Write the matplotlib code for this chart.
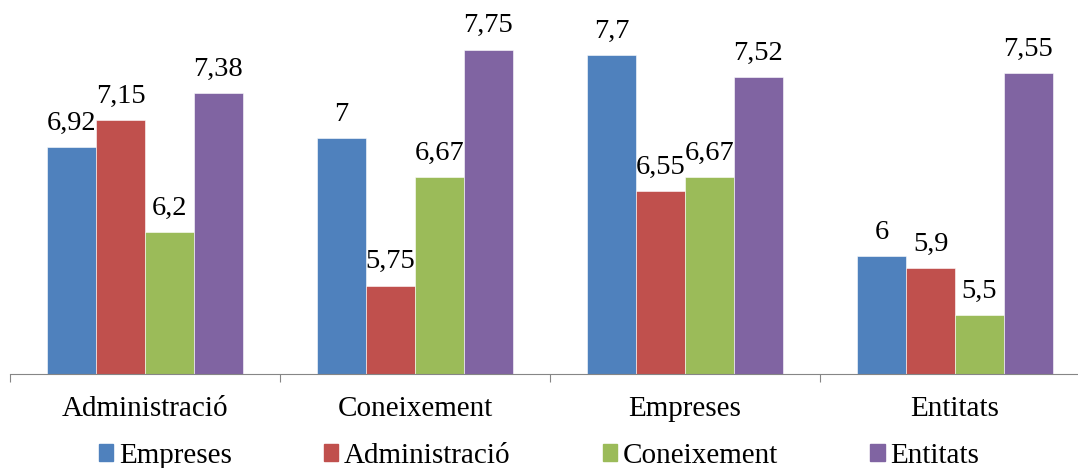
import numpy as np
import matplotlib.pyplot as plt
import matplotlib.transforms as mtransforms
from matplotlib.patches import Patch

categories = ['Administració', 'Coneixement', 'Empreses', 'Entitats']
series = ['Empreses', 'Administració', 'Coneixement', 'Entitats']
empreses = [6.92, 7.0, 7.7, 6.0]
administracio = [7.15, 5.75, 6.55, 5.9]
coneixement = [6.2, 6.67, 6.67, 5.5]
entitats = [7.38, 7.75, 7.52, 7.55]
colors = ['#4F81BD', '#C0504D', '#9BBB59', '#8064A2']

plt.rcParams['font.family'] = ['Liberation Serif', 'DejaVu Serif']

fig = plt.figure(figsize=(10.78, 4.68), dpi=100, facecolor='white')
W, H = 1078, 468
ax = fig.add_axes([10 / W, 1 - 374 / H, 1080 / W, (374 - 20) / H])

x = np.arange(len(categories))
bw = 0.181
data = [empreses, administracio, coneixement, entitats]
for i, vals in enumerate(data):
    pos = x + (i - 1.5) * bw
    bars = ax.bar(pos, vals, bw, bottom=0, color=colors[i], edgecolor='white', linewidth=0.4)
    for p, v in zip(pos, vals):
        lbl = ('%g' % v).replace('.', ',')
        ax.annotate(lbl, (p, v), xytext=(0, 8), textcoords='offset points',
                    ha='center', va='bottom', fontsize=20.5)

ax.set_ylim(5, 8)
ax.set_xlim(-0.5, 3.5)
ax.set_yticks([])
for s in ['top', 'right', 'left']:
    ax.spines[s].set_visible(False)
ax.spines['bottom'].set_color('#868686')
ax.set_xticks(np.arange(-0.5, 4, 1))
ax.set_xticklabels([])
ax.tick_params(axis='x', length=6, color='#868686', direction='out')
trans = mtransforms.blended_transform_factory(ax.transData, fig.transFigure)
for i, c in enumerate(categories):
    ax.text(i, 1 - 409 / H, c, transform=trans, ha='center', va='center', fontsize=21)

handles = [Patch(color=c) for c in colors]
fig.legend(handles, series, loc='center', bbox_to_anchor=(0.5, 1 - 456 / H), ncol=4,
           frameon=False, fontsize=21, handlelength=0.5, handleheight=0.5,
           handletextpad=0.2, columnspacing=3.15, borderaxespad=0, borderpad=0)

plt.savefig('out.png', dpi=100, facecolor='white')
